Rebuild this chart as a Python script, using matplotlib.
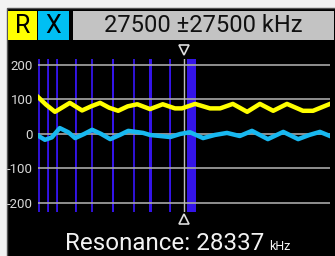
import matplotlib
matplotlib.use("Agg")
import matplotlib.pyplot as plt
from matplotlib.patches import Rectangle
from matplotlib.transforms import blended_transform_factory

plt.rcParams['font.family'] = ['Roboto', 'DejaVu Sans']

# sweep settings (kHz)
center = 27500
span = 27500
resonance = 28337

# y axis ticks
yticks = [200, 100, 0, -100, -200]
ylabels = ["200", "100", "0", "-100", "-200"]

# ham bands shown as blue markers (kHz)
band_lo = [136, 1810, 3500, 7000, 10100, 14000, 18068, 21000, 24890, 28000]
band_hi = [138, 2000, 3800, 7200, 10150, 14350, 18168, 21450, 24990, 29700]

# R curve
r_freq = [0, 1500, 3200, 4500, 6000, 8300, 10000, 11700, 13400, 15100, 16900,
          18700, 21100, 23500, 25800, 27100, 29600, 32400, 34300, 36700,
          39400, 41800, 44300, 46900, 49900, 51800, 55000]
r_val = [107, 85, 64, 76, 90, 68, 80, 90, 76, 67, 80,
         86, 72, 86, 74, 74, 87, 74, 74, 87,
         64, 87, 67, 87, 67, 67, 87]

# X curve
x_freq = [0, 1300, 2600, 4100, 5700, 7000, 8700, 10200, 11900, 13600, 15400,
          17000, 19800, 21100, 24900, 26800, 28600, 31100, 33300, 35600,
          38000, 40300, 43300, 46200, 49000, 51100, 53100, 55000]
x_val = [-5, -17, -10, 17, 5, -12, 0, 12, 0, -15, -3,
         9, 3, -3, -9, 0, 5, -12, -3, 3,
         -6, 9, -15, 6, -15, -3, 6, -6]

W, H = 335, 256


def box(x0, y0, x1, y1):
    return (x0 / W, 1 - y1 / H), (x1 - x0) / W, (y1 - y0) / H


def addRect(fig, x0, y0, x1, y1, color, edge="none", z=-5):
    xy, w, h = box(x0, y0, x1, y1)
    fig.add_artist(Rectangle(xy, w, h, transform=fig.transFigure,
                             facecolor=color, edgecolor=edge, lw=1, zorder=z))


def Main():
    fig = plt.figure(figsize=(W / 100, H / 100), dpi=100)
    fig.patch.set_facecolor("#f2f2f2")

    # screen
    addRect(fig, 7, 8, 336, 257, "black", edge="#555555", z=-10)

    # header
    addRect(fig, 8, 11, 37, 40, "#ffff00")
    addRect(fig, 38, 11, 69, 40, "#00bff3")
    addRect(fig, 73, 11, 334, 40, "#c3c3c3")
    fig.text(22.5 / W, 1 - 26 / H, "R", fontsize=18, ha="center", va="center", color="black")
    fig.text(53.5 / W, 1 - 26 / H, "X", fontsize=18, ha="center", va="center", color="black")
    fig.text(203 / W, 1 - 26 / H, f"{center} \u00b1{span} kHz", fontsize=17,
             ha="center", va="center", color="#111111")

    ax = fig.add_axes([38 / W, 1 - 212 / H, 292 / W, 153 / H])
    ax.set_facecolor("none")
    for s in ax.spines.values():
        s.set_visible(False)
    ax.set_xlim(center - span, center + span)
    ax.set_ylim(-226, 217)
    ax.set_xticks([])
    ax.set_yticks(yticks)
    ax.set_yticklabels(ylabels)
    ax.tick_params(axis="y", length=0, pad=3.6, labelsize=9.5, labelcolor="#d8d8d8")

    for lo, hi in zip(band_lo, band_hi):
        ax.axvspan(lo, hi, color="#3414e8", lw=0, zorder=1)
        ax.axvline((lo + hi) / 2, color="#3414e8", lw=1.3, zorder=1)

    for v in yticks:
        ax.axhline(v, color="#a8a8a8", lw=1.2, zorder=2)

    ax.axvline(center, color="#bdbdbd", lw=1, zorder=3)

    ax.plot(r_freq, r_val, color="#ffff00", lw=3.2, zorder=4, solid_joinstyle="round")
    ax.plot(x_freq, x_val, color="#18b8f0", lw=3.2, zorder=4, solid_joinstyle="round")

    trans = blended_transform_factory(ax.transData, ax.transAxes)
    ax.plot([center], [1.06], marker="v", ms=6.5, mfc="black", mec="#dddddd",
            mew=1.2, transform=trans, clip_on=False)
    ax.plot([center], [-0.045], marker="^", ms=6.5, mfc="black", mec="#dddddd",
            mew=1.2, transform=trans, clip_on=False)

    fig.text(65 / W, 1 - 250 / H, f"Resonance: {resonance}", fontsize=17.4,
             color="#f2f2f2", va="baseline")
    fig.text(269 / W, 1 - 250 / H, "kHz", fontsize=9, color="#f2f2f2", va="baseline")

    fig.savefig("out.png", dpi=100, facecolor=fig.get_facecolor())


Main()
